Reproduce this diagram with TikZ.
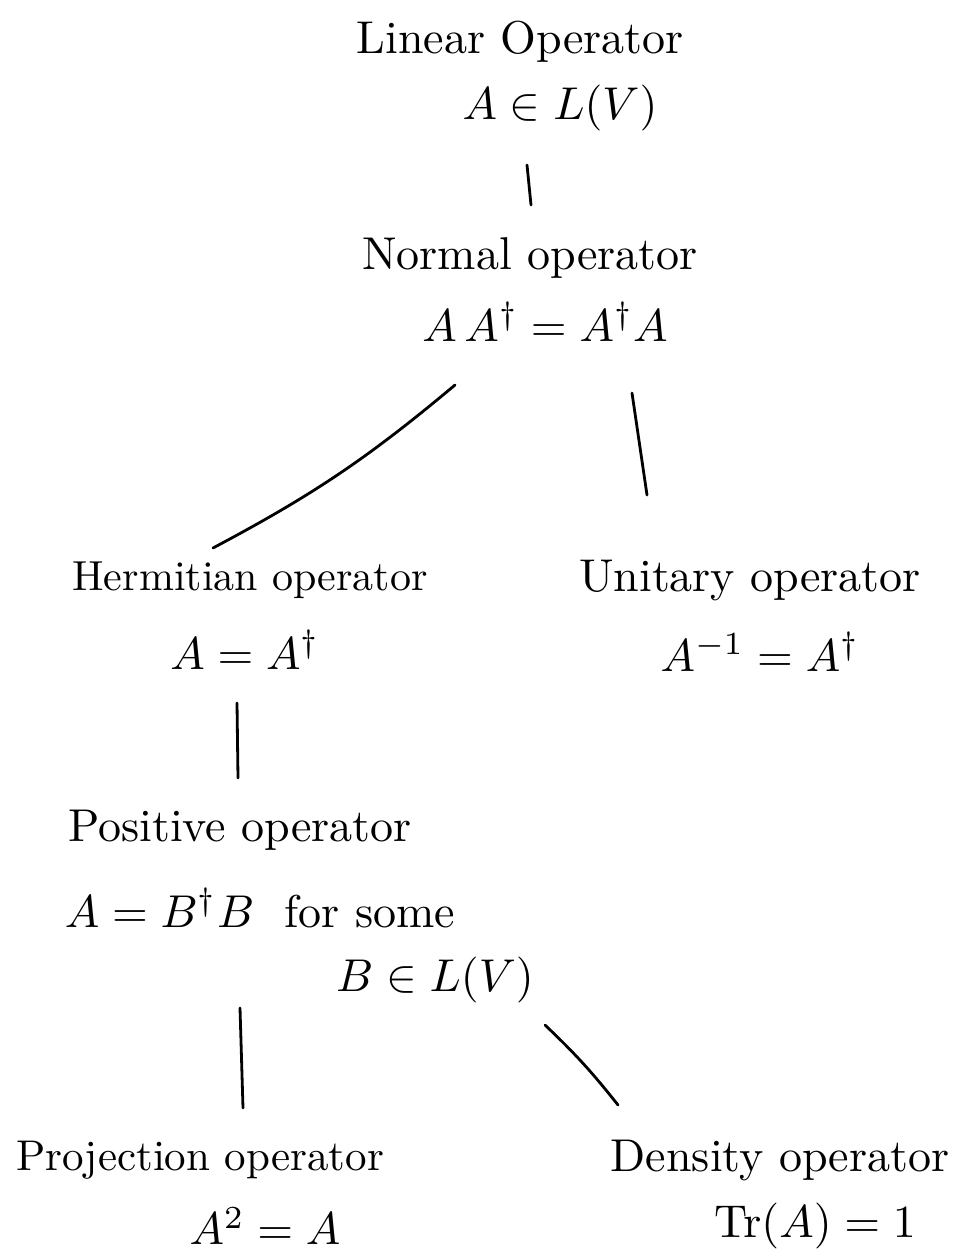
\documentclass[tikz,border=0pt]{standalone}
\usepackage{graphicx}
\usetikzlibrary{calc}
\newcommand{\bigtxt}[2][4.6]{\scalebox{#1}{#2}}
\begin{document}
\begin{tikzpicture}[x=1pt,y=-1pt,
  lbl/.style={font=\normalsize, inner sep=0pt},
  link/.style={line width=2.8pt, black, line cap=round}]
\useasboundingbox[fill=white] (0,0) rectangle (979,1252);
\node[lbl] (lin) at (520,42) {\bigtxt{Linear Operator}};
\node[lbl] (lineq) at (560,108) {\bigtxt{$A \in L(V)$}};
\node[lbl] (norm) at (530,258) {\bigtxt{Normal operator}};
\node[lbl] (normeq) at (545,322) {\bigtxt{$A\, A^{\dagger} = A^{\dagger} A$}};
\node[lbl] (herm) at (250,580) {\bigtxt[4.2]{Hermitian operator}};
\node[lbl] (hermeq) at (245,650) {\bigtxt{$A = A^{\dagger}$}};
\node[lbl] (unit) at (750,580) {\bigtxt{Unitary operator}};
\node[lbl] (uniteq) at (760,652) {\bigtxt{$A^{-1} = A^{\dagger}$}};
\node[lbl] (pos) at (240,830) {\bigtxt{Positive operator}};
\node[lbl] (poseq) at (260,908) {\bigtxt{$A = B^{\dagger} B$\ \ for some}};
\node[lbl] (posB) at (435,980) {\bigtxt{$B \in L(V)$}};
\node[lbl] (proj) at (200,1160) {\bigtxt[4.3]{Projection operator}};
\node[lbl] (projeq) at (265,1226) {\bigtxt{$A^{2} = A$}};
\node[lbl] (dens) at (780,1160) {\bigtxt{Density operator}};
\node[lbl] (denseq) at (815,1226) {\bigtxt{$\mathrm{Tr}(A) = 1$}};

\draw[link] ($(lineq)+(-33,57)$) -- ($(norm)+(1,-53)$);
\draw[link] ($(normeq)+(-90,63)$) to[bend left=6] ($(herm)+(-37,-32)$);
\draw[link] ($(normeq)+(87,71)$) -- ($(unit)+(-103,-85)$);
\draw[link] ($(hermeq)+(-8,53)$) -- ($(pos)+(-2,-52)$);
\draw[link] ($(posB)+(-195,28)$) -- ($(proj)+(43,-52)$);
\draw[link] ($(posB)+(110,45)$) to[bend left=4] ($(dens)+(-162,-55)$);
\end{tikzpicture}
\end{document}
